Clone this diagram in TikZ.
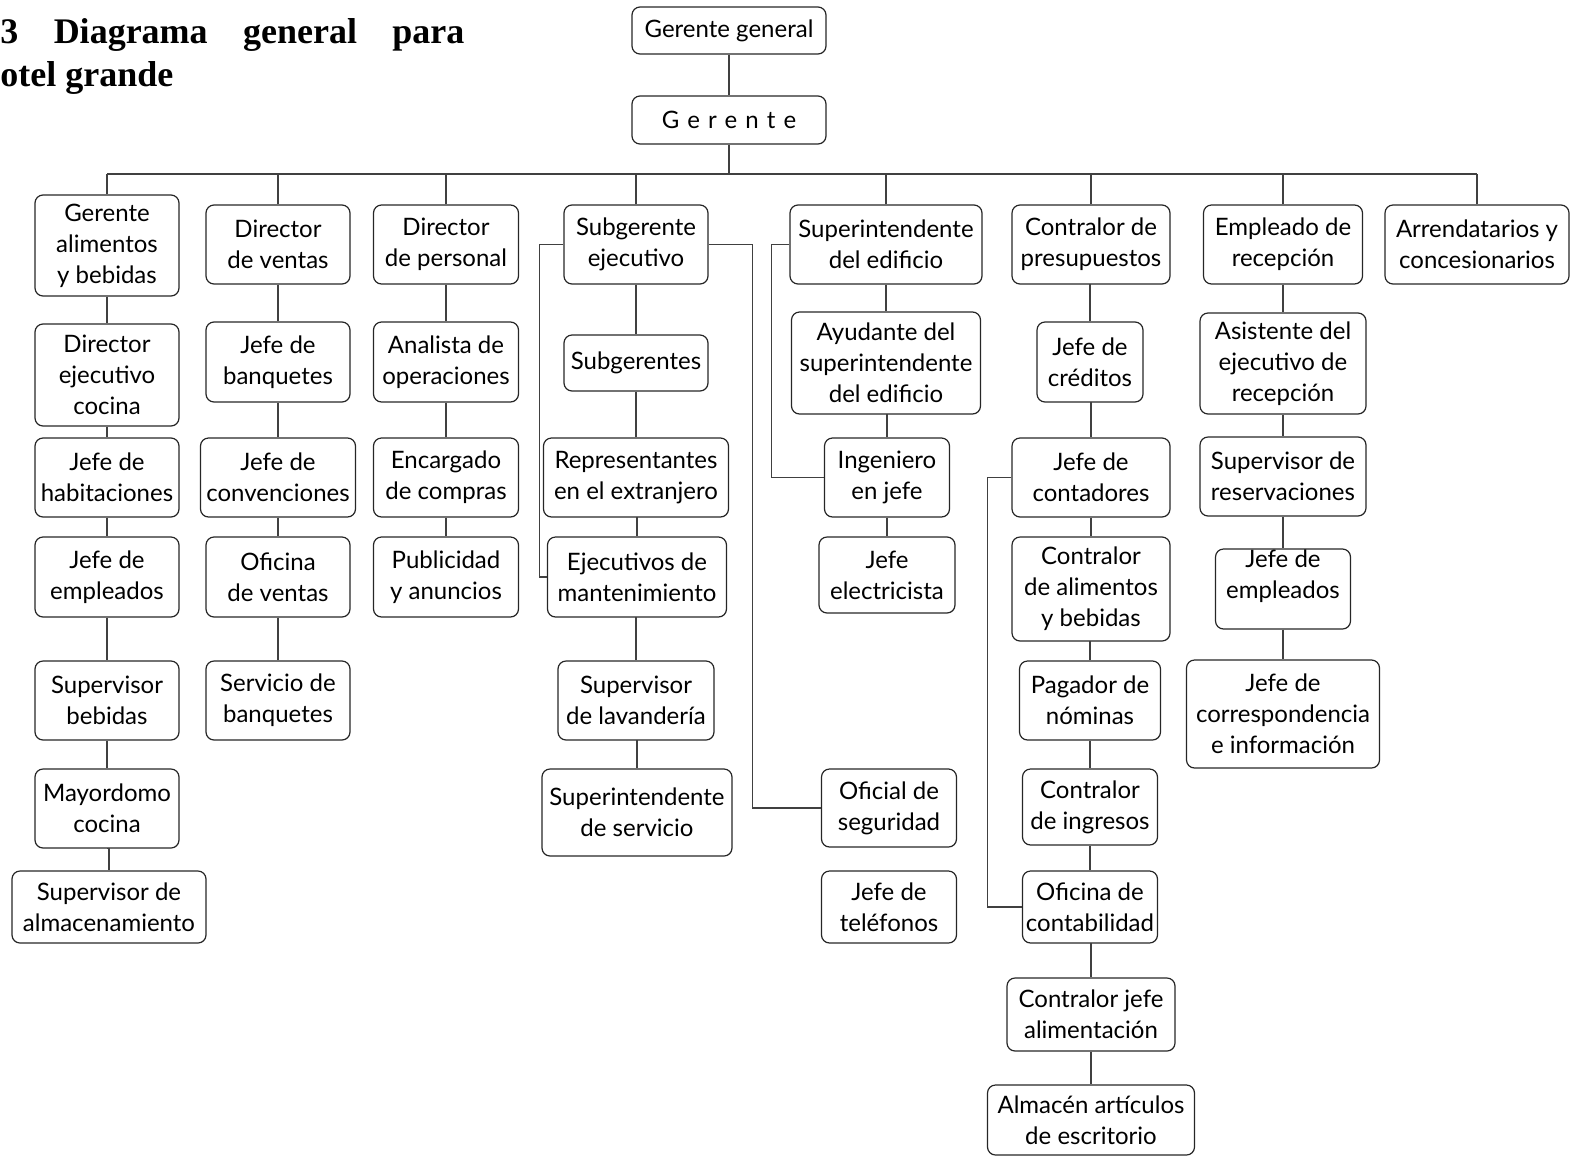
\documentclass[tikz,border=0pt]{standalone}
\usepackage{fontspec}
\setmainfont{Lato}
\newfontfamily\titlefont{Liberation Serif}
\begin{document}
\begin{tikzpicture}[x=0.5pt,y=-0.5pt,
  box/.style={draw=black!85, line width=0.6pt, rounded corners=4pt, inner sep=0pt,
    align=center, font=\fontsize{12pt}{15.5pt}\selectfont, text=black},
  sz/.style 2 args={minimum width=#1*0.5pt, minimum height=#2*0.5pt},
  link/.style={draw=black!75, line width=0.55pt},
  lbl/.style={inner sep=0pt, align=center, font=\fontsize{12pt}{15.5pt}\selectfont, text=black}]
\useasboundingbox (0,0) rectangle (1580,1163);
% title
\node[anchor=base west, inner sep=0pt, font=\titlefont\bfseries\fontsize{18pt}{21.5pt}\selectfont] (t1) at (0,43)
  {\makebox[232pt][l]{3\hfill Diagrama\hfill general\hfill para}};
\node[anchor=base west, inner sep=0pt, font=\titlefont\bfseries\fontsize{18pt}{21.5pt}\selectfont] (t2) at (0,86) {otel grande};
% top
\node[box, sz={194}{47}] (gg) at (729,30.5) {Gerente general};
\node[box, sz={194}{48}] (g) at (729,120) {\addfontfeatures{LetterSpace=34}Gerente};
\coordinate (busL) at (107,174);
\coordinate (busR) at (1477,174);
% column 1
\node[box, sz={144}{101}] (c1a) at (107,245.5) {Gerente\\alimentos\\y bebidas};
\node[box, sz={144}{102}] (c1b) at (107,375) {Director\\ejecutivo\\cocina};
\node[box, sz={144}{79}] (c1c) at (107,477.5) {Jefe de\\habitaciones};
\node[box, sz={144}{80}] (c1d) at (107,577) {Jefe de\\empleados};
\node[box, sz={144}{79}] (c1e) at (107,700.5) {Supervisor\\bebidas};
\node[box, sz={144}{79}] (c1f) at (107,808.5) {Mayordomo\\cocina};
\node[box, sz={194}{72}] (c1g) at (109,907) {Supervisor de\\almacenamiento};
% column 2
\node[box, sz={144}{79}] (c2a) at (278,244.5) {Director\\de ventas};
\node[box, sz={144}{80}] (c2b) at (278,362) {Jefe de\\banquetes};
\node[box, sz={155}{79}] (c2c) at (278,477.5) {Jefe de\\convenciones};
\node[box, sz={144}{80}] (c2d) at (278,577) {Oficina\\de ventas};
\node[box, sz={144}{79}] (c2e) at (278,700.5) {Servicio de\\banquetes};
% column 3
\node[box, sz={145}{79}] (c3a) at (446,244.5) {Director\\de personal};
\node[box, sz={145}{80}] (c3b) at (446,362) {Analista de\\operaciones};
\node[box, sz={145}{79}] (c3c) at (446,477.5) {Encargado\\de compras};
\node[box, sz={145}{80}] (c3d) at (446,577) {Publicidad\\y anuncios};
% column 4
\node[box, sz={144}{79}] (c4a) at (636,244.5) {Subgerente\\ejecutivo};
\node[box, sz={144}{56}] (c4b) at (636,363) {Subgerentes};
\node[box, sz={185}{79}] (c4c) at (636,477.5) {Representantes\\en el extranjero};
\node[box, sz={179}{80}] (c4d) at (637,577) {Ejecutivos de\\mantenimiento};
\node[box, sz={156}{79}] (c4e) at (636,700.5) {Supervisor\\de lavandería};
\node[box, sz={190}{87}] (c4f) at (637,812.5) {Superintendente\\de servicio};
% column 5
\node[box, sz={192}{79}] (c5a) at (886,244.5) {Superintendente\\del edificio};
\node[box, sz={189}{102}] (c5b) at (886,363) {Ayudante del\\superintendente\\del edificio};
\node[box, sz={125}{79}] (c5c) at (887,477.5) {Ingeniero\\en jefe};
\node[box, sz={136}{76}] (c5d) at (887,575) {Jefe\\electricista};
\node[box, sz={135}{78}] (c5e) at (889,808) {Oficial de\\seguridad};
\node[box, sz={135}{72}] (c5f) at (889,907) {Jefe de\\teléfonos};
% column 6
\node[box, sz={158}{79}] (c6a) at (1091,244.5) {Contralor de\\presupuestos};
\node[box, sz={106}{80}] (c6b) at (1090,362) {Jefe de\\créditos};
\node[box, sz={158}{79}] (c6c) at (1091,477.5) {Jefe de\\contadores};
\node[box, sz={158}{104}] (c6d) at (1091,589) {Contralor\\de alimentos\\y bebidas};
\node[box, sz={141}{79}] (c6e) at (1090,700.5) {Pagador de\\nóminas};
\node[box, sz={135}{76}] (c6f) at (1090,807) {Contralor\\de ingresos};
\node[box, sz={135}{72}] (c6g) at (1090,907) {Oficina de\\contabilidad};
\node[box, sz={168}{73}] (c6h) at (1091,1014.5) {Contralor jefe\\alimentación};
\node[box, sz={207}{70}] (c6i) at (1091,1120) {Almacén artículos\\de escritorio};
% column 7
\node[box, sz={159}{79}] (c7a) at (1283,244.5) {Empleado de\\recepción};
\node[box, sz={166}{101}] (c7b) at (1283,363.5) {Asistente del\\ejecutivo de\\recepción};
\node[box, sz={166}{79}] (c7c) at (1283,476.5) {Supervisor de\\reservaciones};
\node[box, sz={135}{80}] (c7d) at (1283,589) {};
\node[lbl] (c7dt) at (1283,576) {Jefe de\\empleados};
\node[box, sz={193}{108}] (c7e) at (1283,714) {Jefe de\\correspondencia\\e información};
% column 8
\node[box, sz={184}{79}] (c8a) at (1477,244.5) {Arrendatarios y\\concesionarios};
% connectors
\draw[link] (gg.south) -- (g.north);
\draw[link] (g.south) -- (g.south |- busL);
\draw[link] (busL) -- (busR);
\foreach \n in {c1a,c2a,c3a,c4a,c5a,c6a,c7a,c8a}
  \draw[link] (\n.north) -- (\n.north |- busL);
\foreach \a/\b in {c1a/c1b,c1b/c1c,c1c/c1d,c1d/c1e,c1e/c1f,c1f/c1g,
  c2a/c2b,c2b/c2c,c2c/c2d,c2d/c2e,
  c3a/c3b,c3b/c3c,c3c/c3d,
  c4a/c4b,c4b/c4c,c4c/c4d,c4d/c4e,c4e/c4f,
  c5a/c5b,c5b/c5c,c5c/c5d,
  c6a/c6b,c6b/c6c,c6c/c6d,c6d/c6e,c6e/c6f,c6f/c6g,c6g/c6h,c6h/c6i,
  c7a/c7b,c7b/c7c,c7c/c7d,c7d/c7e}
  \draw[link] (\a.south) -- (\a.south -| \b.north) -- (\b.north);
% brackets
\draw[link] (c4a.west) -- ++(-24,0) |- (c4d.west);
\draw[link] (c4a.east) -- ++(44,0) |- (c5e.west);
\draw[link] (c5a.west) -- ++(-18,0) |- (c5c.west);
\draw[link] (c6c.west) -- ++(-24,0) |- (c6g.west);
\end{tikzpicture}
\end{document}
